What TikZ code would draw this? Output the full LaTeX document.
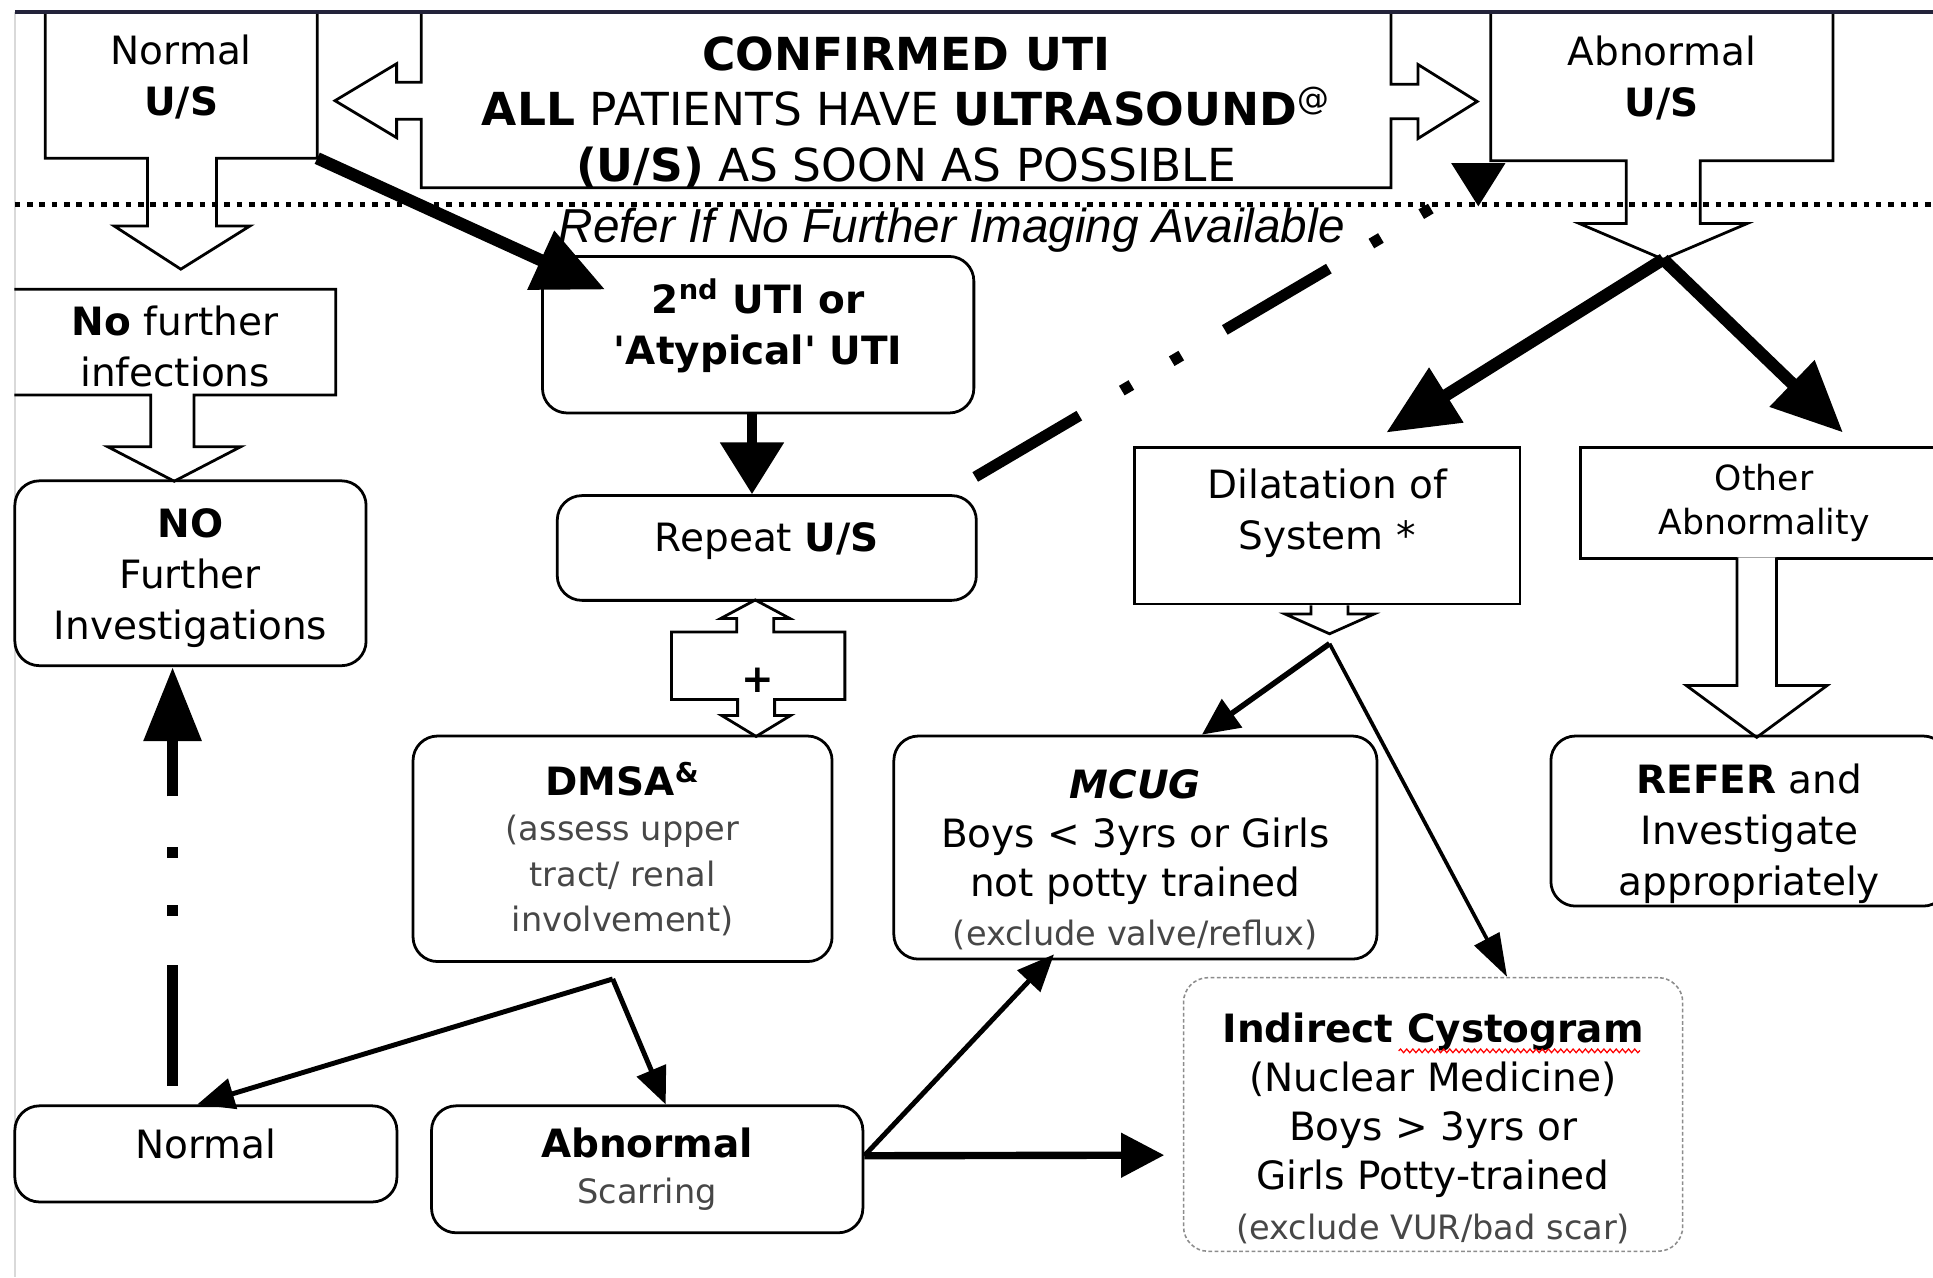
\documentclass[tikz,border=0pt]{standalone}
\usepackage{fontspec}
\setmainfont{DejaVu Sans}
\newfontfamily\referfont{Liberation Sans}
\usetikzlibrary{calc}
\usetikzlibrary{arrows.meta}
\usetikzlibrary{decorations.pathmorphing}
\definecolor{framecol}{HTML}{23233A}
\newcommand{\greytext}{\fontsize{15.5}{20}\selectfont\color{black!72}}
\tikzset{
	boxstyle/.style={rectangle,draw=black,line width=0.045cm,align=center,inner sep=0pt,font=\fontsize{18}{23.5}\selectfont},
	roundstyle/.style={boxstyle,rounded corners=0.4cm},
	textstyle/.style={rectangle,align=center,inner sep=0pt,font=\fontsize{18}{23.5}\selectfont},
	outlinestyle/.style={draw=black,line width=0.045cm},
	bigarrow/.style={line width=0.2cm,-{Triangle[length=1.15cm,width=1cm]}},
	thinarrow/.style={line width=0.08cm,-{Triangle[length=0.6cm,width=0.5cm]}},
	dashdotstyle/.style={line width=0.18cm,dash pattern=on 1.96cm off 0.8cm on 0.18cm off 0.76cm on 0.18cm off 0.82cm}
}

\begin{document}
\begin{tikzpicture}[x=0.02cm,y=-0.02cm]
		\fill[white] (0,0) rectangle (1568,1036);
		\useasboundingbox (0,0) rectangle (1568,1036);
		% frame of the scan
		\draw[black!15,line width=0.03cm] (12,10) -- (12,1036);
		% top row: ultrasound result
		\node[textstyle,minimum width=4.4cm,minimum height=2.36cm] (nus) at (147,69) {Normal\\\textbf{U/S}\rule[-9pt]{0pt}{9pt}};
		\node[textstyle,minimum width=15.72cm,minimum height=2.84cm,font=\fontsize{21}{25.5}\selectfont] (conf) at (735,81) {\rule{0pt}{26.7pt}\textbf{CONFIRMED UTI}\\\textbf{ALL} PATIENTS HAVE \textbf{ULTRASOUND}\textsuperscript{@}\\\textbf{(U/S)} AS SOON AS POSSIBLE};
		\node[textstyle,minimum width=5.54cm,minimum height=2.4cm] (aus) at (1348,70) {Abnormal\\\textbf{U/S}\rule[-9pt]{0pt}{9pt}};
		\draw[outlinestyle] (nus.north west) -- (nus.south west) -- ++(83,0) -- ++(0,55) -- ++(-27,0) -- ++(54,35) -- ++(56,-35) -- ++(-27,0) -- ++(0,-55) -- (nus.south east) -- (nus.north east);
		\draw[outlinestyle] (conf.north west) -- ++(0,57) -- ++(-20,0) -- ++(0,-15) -- ++(-50,30) -- ++(50,30) -- ++(0,-15) -- ++(20,0) -- (conf.south west) -- (conf.south east) -- ++(0,-56) -- ++(22,0) -- ++(0,16) -- ++(48,-30) -- ++(-48,-30) -- ++(0,16) -- ++(-22,0) -- (conf.north east);
		\draw[outlinestyle] (aus.north west) -- (aus.south west) -- ++(110,0) -- ++(0,51) -- ++(-38,0) -- ++(68,29) coordinate (austip) -- ++(68,-29) -- ++(-38,0) -- ++(0,-51) -- (aus.south east) -- (aus.north east);
		\fill (aus.south west) ++(-32,2) -- ++(44,0) -- ++(-22,35) -- cycle;
		\draw[framecol,line width=0.06cm] (12,10) -- (1568,10);
		\draw[line width=0.09cm,dash pattern=on 0.09cm off 0.11cm] (12,166) -- (1568,166);
		\node[textstyle,font=\referfont\itshape\fontsize{22}{26}\selectfont] (referline) at (772,187) {Refer If No Further Imaging Available};
		% left column
		\node[textstyle,minimum width=5.2cm,minimum height=1.7cm] (nofi) at (142,277.5) {\rule{0pt}{18pt}\textbf{No} further\\infections};
		\draw[outlinestyle] (nofi.north west) -- (nofi.north east) -- (nofi.south east) -- ++(-115,0) -- ++(0,42) -- ++(38,0) -- ++(-54,28) -- ++(-54,-28) -- ++(35,0) -- ++(0,-42) -- (nofi.south west);
		\node[roundstyle,minimum width=5.7cm,minimum height=3cm] (nofurther) at (154.5,465) {\rule{0pt}{18pt}\textbf{NO}\\Further\\Investigations};
		\node[roundstyle,minimum width=6.2cm,minimum height=1.56cm] (normal) at (167,936) {Normal\rule[-9pt]{0pt}{9pt}};
		% middle column
		\node[roundstyle,minimum width=7cm,minimum height=2.54cm,font=\bfseries\fontsize{18}{23.5}\selectfont] (uti2) at (615,271.5) {2\textsuperscript{nd} UTI or\\\textquotesingle Atypical\textquotesingle\ UTI\rule[-12pt]{0pt}{12pt}};
		\node[roundstyle,minimum width=6.8cm,minimum height=1.7cm] (rep) at (622,444.5) {Repeat \textbf{U/S}\rule[-10pt]{0pt}{10pt}};
		\node[textstyle,minimum width=2.8cm,minimum height=1.08cm,font=\bfseries\fontsize{18}{23.5}\selectfont] (plus) at (615,540) {\rule{0pt}{25pt}+};
		\draw[outlinestyle] (plus.north west) -- ++(53,0) -- ++(0,-11) -- ++(-13,0) -- ++(28,-15) -- ++(28,15) -- ++(-13,0) -- ++(0,11) -- (plus.north east) -- (plus.south east) -- ++(-57,0) -- ++(0,13) -- ++(13,0) -- ++(-28,17) -- ++(-28,-17) -- ++(13,0) -- ++(0,-13) -- (plus.south west) -- cycle;
		\node[roundstyle,minimum width=6.8cm,minimum height=3.66cm,font=\fontsize{15.5}{20.8}\selectfont] (dmsa) at (505,688.5) {\textbf{\fontsize{18}{20.8}\selectfont DMSA\textsuperscript{\&}}\\{\greytext (assess upper}\\{\greytext tract/ renal}\\{\greytext involvement)}};
		\node[roundstyle,minimum width=7cm,minimum height=2.06cm,font=\fontsize{18}{21.5}\selectfont] (abn) at (525,948.5) {\textbf{Abnormal}\\{\greytext Scarring}};
		% right side
		\node[boxstyle,minimum width=6.26cm,minimum height=2.54cm] (dil) at (1076.5,426.5) {Dilatation of\\System *\rule[-15.6pt]{0pt}{15.6pt}};
		\draw[outlinestyle] ($(dil.south)+(-13,0)$) -- ++(0,7) -- ++(-21,0) -- ++(36,16) coordinate (diltip) -- ++(36,-16) -- ++(-21,0) -- ++(0,-7);
		\node[boxstyle,minimum width=5.96cm,minimum height=1.8cm,font=\fontsize{16}{20.5}\selectfont] (oth) at (1431,408) {Other\\Abnormality};
		\filldraw[outlinestyle,fill=white] ($(oth.south)+(-22,-2)$) -- ++(0,104) -- ++(-41,0) -- ++(57,42) -- ++(57,-42) -- ++(-41,0) -- ++(0,-104);
		\node[roundstyle,minimum width=6.44cm,minimum height=2.76cm] (refer) at (1419,666) {\rule{0pt}{25.1pt}\textbf{REFER} and\\Investigate\\appropriately};
		\node[roundstyle,minimum width=7.84cm,minimum height=3.62cm,font=\fontsize{18}{22.7}\selectfont] (mcug) at (921,687.5) {\rule{0pt}{24.5pt}\textbf{\itshape MCUG}\\Boys < 3yrs or Girls\\not potty trained\\{\greytext (exclude valve/reflux)}};
		\node[roundstyle,draw=black!45,line width=0.025cm,dash pattern=on 0.06cm off 0.04cm,minimum width=8.1cm,minimum height=4.44cm,font=\fontsize{18}{22.7}\selectfont] (cyst) at (1162.5,904) {\rule{0pt}{26.3pt}\textbf{Indirect Cystogram}\\(Nuclear Medicine)\\Boys > 3yrs or\\Girls Potty-trained\\{\greytext (exclude VUR/bad scar)}};
		\draw[red,line width=0.02cm,decorate,decoration={snake,amplitude=0.03cm,segment length=0.1cm}] ($(cyst.north)+(-28,60)$) -- ($(cyst.north)+(168,60)$);
		% connectors
		\draw[bigarrow] (nus.south east) -- ($(uti2.north west)+(52,28)$);
		\draw[line width=0.16cm,-{Triangle[length=0.84cm,width=1cm]}] ($(uti2.south)+(-5,0)$) -- ($(rep.north)+(-12,0)$);
		\draw[dashdotstyle] ($(rep.north east)+(-2,-14)$) -- ($(aus.south west)+(-20,22)$);
		\draw[dashdotstyle,-{Triangle[length=1.2cm,width=0.9cm]}] ($(normal.north)+(-27,-15)$) -- ($(nofurther.south)+(-14.5,0)$);
		\draw[bigarrow] (austip) -- ($(dil.north)+(48,-11)$);
		\draw[bigarrow] (austip) -- ($(oth.north)+(64,-11)$);
		\coordinate (dmsafork) at ($(dmsa.south)+(-8,13)$);
		\draw[thinarrow] (dmsafork) -- ($(normal.north)+(-7,0)$);
		\draw[thinarrow] (dmsafork) -- ($(abn.north)+(15,0)$);
		\draw[thinarrow] ($(abn.east)+(0,-11)$) -- ($(mcug.south)+(-66,-5)$);
		\draw[line width=0.12cm,-{Triangle[length=0.7cm,width=0.7cm]}] ($(abn.east)+(0,-11)$) -- ($(cyst.west)+(-15,33)$);
		\coordinate (dilfork) at ($(diltip)+(0,8)$);
		\draw[line width=0.09cm,-{Triangle[length=0.6cm,width=0.55cm]}] (dilfork) -- ($(mcug.north)+(54,0)$);
		\draw[line width=0.06cm,-{Triangle[length=0.7cm,width=0.45cm]}] (dilfork) -- ($(cyst.north)+(60,0)$);
		\end{tikzpicture}
\end{document}
